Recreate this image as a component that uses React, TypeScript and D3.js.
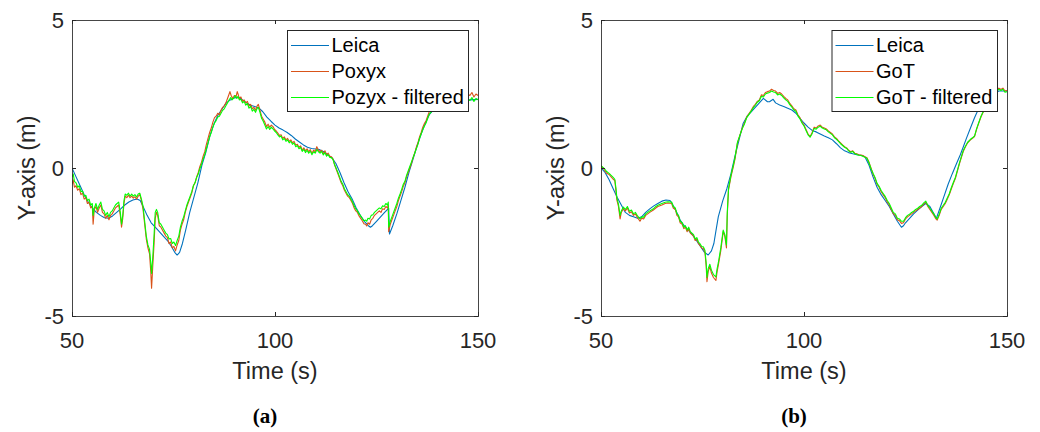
import React from "react";
import * as d3 from "d3";

type P = [number, number];

const xTicks = [50, 100, 150];
const yTicks = [-5, 0, 5];
const xDomain: [number, number] = [50, 150];
const yDomain: [number, number] = [-5, 5];

const legendA = ["Leica", "Poxyx", "Pozyx - filtered"];
const legendB = ["Leica", "GoT", "GoT - filtered"];

const leicaA: P[] = [[50,0],[51,-0.3],[52,-0.6],[53,-0.9],[54,-1.15],[55,-1.35],[56,-1.5],[57,-1.6],[58,-1.68],[59,-1.7],[60,-1.62],[61,-1.5],[62,-1.38],[63,-1.25],[64,-1.15],[65,-1.08],[66,-1.05],[66.8,-1.1],[67.5,-1.3],[68.5,-1.6],[69.5,-1.85],[70.5,-2.0],[71.5,-2.15],[72.5,-2.3],[73.5,-2.45],[74.5,-2.65],[75.3,-2.85],[75.9,-2.94],[76.5,-2.85],[77.2,-2.55],[78,-2.1],[79,-1.5],[80,-1.0],[81,-0.5],[82,0.1],[83,0.55],[84,1.1],[85,1.5],[86,1.8],[87,2.0],[88,2.2],[89,2.3],[90,2.37],[91,2.39],[92,2.3],[93,2.2],[94,2.12],[95,2.08],[96,2.03],[97,1.9],[98,1.72],[99,1.58],[100,1.45],[101,1.35],[102,1.28],[103,1.2],[104,1.1],[105,0.98],[106,0.88],[107,0.78],[108,0.7],[109,0.66],[110,0.64],[111,0.62],[112,0.55],[113,0.45],[114,0.35],[115,0.15],[116,-0.15],[117,-0.5],[118,-0.8],[119,-1.05],[120,-1.35],[121,-1.6],[122,-1.8],[123,-1.95],[123.5,-2.0],[124,-1.95],[125,-1.8],[126,-1.65],[127,-1.5],[128,-1.36],[128.2,-2.23],[129,-1.95],[130,-1.55],[131,-1.1],[132,-0.65],[133,-0.15],[134,0.3],[135,0.75],[136,1.15],[137,1.5],[138,1.8],[139,1.96],[140,2.05],[142,2.15],[145,2.25],[148,2.3],[150,2.32]];

const poxyxA: P[] = [[50,-0.55],[50.3,-0.4],[50.6,-0.65],[51,-0.6],[51.4,-0.75],[51.8,-0.7],[52.2,-0.9],[52.6,-0.85],[53,-1.05],[53.4,-1.0],[53.8,-1.2],[54.2,-1.15],[54.6,-1.35],[55,-1.3],[55.2,-1.9],[55.5,-1.4],[55.9,-1.3],[56.3,-1.5],[56.7,-1.35],[57.1,-1.25],[57.5,-1.5],[57.9,-1.55],[58.3,-1.7],[58.7,-1.6],[59.1,-1.75],[59.5,-1.6],[59.9,-1.55],[60.3,-1.45],[60.7,-1.35],[61.1,-1.3],[61.5,-1.25],[61.9,-1.6],[62.2,-2.0],[62.5,-1.7],[62.8,-1.2],[63.1,-0.95],[63.5,-1.0],[63.9,-0.92],[64.3,-1.0],[64.7,-0.95],[65.1,-1.02],[65.5,-0.97],[65.9,-1.05],[66.3,-0.95],[66.7,-0.9],[67.1,-1.1],[67.5,-1.4],[67.9,-1.9],[68.3,-2.4],[68.7,-2.7],[69.1,-2.9],[69.4,-3.5],[69.6,-4.06],[69.9,-3.3],[70.2,-2.6],[70.5,-1.7],[70.8,-1.5],[71.1,-1.6],[71.5,-1.95],[71.9,-2.0],[72.3,-2.1],[72.7,-2.2],[73.1,-2.3],[73.5,-2.35],[73.9,-2.55],[74.3,-2.5],[74.7,-2.7],[75.1,-2.65],[75.5,-2.8],[75.9,-2.6],[76.3,-2.45],[76.7,-2.1],[77.1,-1.9],[77.5,-1.75],[77.9,-1.5],[78.3,-1.3],[78.7,-1.15],[79.1,-1.0],[79.5,-0.85],[79.9,-0.6],[80.3,-0.5],[80.7,-0.3],[81.1,-0.15],[81.5,0.05],[81.9,0.2],[82.3,0.4],[82.7,0.55],[83.1,0.8],[83.5,1.0],[83.9,1.2],[84.3,1.35],[84.7,1.55],[85.1,1.7],[85.5,1.75],[85.9,1.85],[86.3,1.8],[86.7,1.95],[87.1,2.05],[87.5,2.1],[87.9,2.2],[88.3,2.35],[88.7,2.5],[88.9,2.58],[89.2,2.45],[89.6,2.35],[90,2.45],[90.4,2.4],[90.7,2.58],[90.9,2.5],[91.2,2.35],[91.6,2.4],[92,2.25],[92.4,2.3],[92.8,2.2],[93.2,2.25],[93.6,2.1],[94,2.15],[94.4,2.0],[94.8,2.05],[95.2,1.95],[95.6,2.1],[95.9,2.15],[96.3,1.95],[96.7,1.75],[97.1,1.65],[97.5,1.55],[97.9,1.4],[98.3,1.48],[98.7,1.38],[99.1,1.45],[99.5,1.4],[99.9,1.3],[100.3,1.25],[100.7,1.18],[101.1,1.1],[101.5,1.12],[101.9,1.0],[102.3,1.05],[102.7,0.95],[103.1,1.0],[103.5,0.9],[103.9,0.95],[104.3,0.85],[104.7,0.9],[105.1,0.78],[105.5,0.8],[105.9,0.7],[106.3,0.75],[106.7,0.6],[107.1,0.68],[107.5,0.58],[107.9,0.65],[108.3,0.55],[108.7,0.62],[109.1,0.5],[109.5,0.6],[109.9,0.55],[110.3,0.72],[110.7,0.6],[111.1,0.55],[111.5,0.6],[111.9,0.48],[112.3,0.58],[112.7,0.45],[113.1,0.5],[113.5,0.4],[113.9,0.38],[114.3,0.3],[114.7,0.1],[115.1,-0.05],[115.5,-0.2],[115.9,-0.35],[116.3,-0.5],[116.7,-0.6],[117.1,-0.75],[117.5,-0.85],[117.9,-0.95],[118.3,-1.0],[118.7,-1.1],[119.1,-1.2],[119.5,-1.35],[119.9,-1.45],[120.3,-1.5],[120.7,-1.62],[121.1,-1.7],[121.5,-1.78],[121.9,-1.88],[122.3,-1.9],[122.6,-1.96],[122.9,-1.85],[123.3,-1.9],[123.7,-1.75],[124.1,-1.7],[124.5,-1.6],[124.9,-1.55],[125.3,-1.5],[125.7,-1.45],[126.1,-1.5],[126.5,-1.38],[126.9,-1.4],[127.3,-1.3],[127.7,-1.35],[127.9,-1.25],[128,-2.15],[128.4,-1.9],[128.8,-1.75],[129.2,-1.6],[129.6,-1.45],[130,-1.3],[130.4,-1.1],[130.8,-0.95],[131.2,-0.8],[131.6,-0.62],[132,-0.5],[132.4,-0.3],[132.8,-0.15],[133.2,0.0],[133.6,0.15],[134,0.35],[134.4,0.5],[134.8,0.7],[135.2,0.85],[135.6,1.05],[136,1.2],[136.4,1.38],[136.8,1.5],[137.2,1.6],[137.6,1.75],[138,1.9],[138.4,1.95],[138.8,2.0],[139.5,2.05],[141,2.15],[143,2.25],[145,2.3],[147,2.4],[147.5,2.5],[148,2.45],[148.5,2.55],[149,2.4],[149.5,2.5],[150,2.45]];

const pozyxFilteredA: P[] = [[50,-0.3],[50.3,-0.2],[50.6,-0.45],[51,-0.5],[51.4,-0.65],[51.8,-0.6],[52.2,-0.8],[52.6,-0.78],[53,-0.95],[53.4,-0.92],[53.8,-1.1],[54.2,-1.05],[54.6,-1.25],[55,-1.2],[55.2,-1.6],[55.5,-1.35],[55.9,-1.2],[56.3,-1.4],[56.7,-1.25],[57.1,-1.15],[57.5,-1.4],[57.9,-1.45],[58.3,-1.6],[58.7,-1.5],[59.1,-1.65],[59.5,-1.5],[59.9,-1.45],[60.3,-1.35],[60.7,-1.25],[61.1,-1.2],[61.5,-1.15],[61.9,-1.5],[62.2,-1.9],[62.5,-1.6],[62.8,-1.1],[63.1,-0.88],[63.5,-0.92],[63.9,-0.85],[64.3,-0.95],[64.7,-0.88],[65.1,-0.95],[65.5,-0.9],[65.9,-0.98],[66.3,-0.88],[66.7,-0.85],[67.1,-1.05],[67.5,-1.3],[67.9,-1.8],[68.3,-2.3],[68.7,-2.6],[69.1,-2.75],[69.4,-3.2],[69.6,-3.56],[69.9,-3.0],[70.2,-2.3],[70.5,-1.5],[70.8,-1.4],[71.1,-1.5],[71.5,-1.85],[71.9,-1.9],[72.3,-2.0],[72.7,-2.1],[73.1,-2.2],[73.5,-2.25],[73.9,-2.4],[74.3,-2.38],[74.7,-2.55],[75.1,-2.5],[75.5,-2.62],[75.9,-2.45],[76.3,-2.3],[76.7,-2.0],[77.1,-1.8],[77.5,-1.65],[77.9,-1.45],[78.3,-1.25],[78.7,-1.1],[79.1,-0.95],[79.5,-0.8],[79.9,-0.6],[80.3,-0.5],[80.7,-0.32],[81.1,-0.2],[81.5,-0.02],[81.9,0.12],[82.3,0.3],[82.7,0.45],[83.1,0.65],[83.5,0.85],[83.9,1.05],[84.3,1.2],[84.7,1.38],[85.1,1.52],[85.5,1.6],[85.9,1.72],[86.3,1.75],[86.7,1.85],[87.1,1.95],[87.5,2.0],[87.9,2.1],[88.3,2.2],[88.7,2.3],[89.1,2.38],[89.4,2.3],[89.8,2.35],[90.2,2.45],[90.6,2.35],[90.9,2.42],[91.2,2.3],[91.6,2.32],[92,2.2],[92.4,2.25],[92.8,2.12],[93.2,2.18],[93.6,2.02],[94,2.08],[94.4,1.92],[94.8,1.98],[95.2,1.88],[95.6,2.02],[95.9,2.05],[96.3,1.88],[96.7,1.68],[97.1,1.58],[97.5,1.45],[97.9,1.32],[98.3,1.4],[98.7,1.3],[99.1,1.38],[99.5,1.32],[99.9,1.25],[100.3,1.2],[100.7,1.12],[101.1,1.05],[101.5,1.08],[101.9,0.95],[102.3,1.0],[102.7,0.9],[103.1,0.95],[103.5,0.85],[103.9,0.9],[104.3,0.8],[104.7,0.85],[105.1,0.72],[105.5,0.76],[105.9,0.65],[106.3,0.7],[106.7,0.56],[107.1,0.63],[107.5,0.52],[107.9,0.6],[108.3,0.5],[108.7,0.57],[109.1,0.45],[109.5,0.55],[109.9,0.5],[110.3,0.62],[110.7,0.55],[111.1,0.5],[111.5,0.56],[111.9,0.44],[112.3,0.52],[112.7,0.4],[113.1,0.45],[113.5,0.36],[113.9,0.35],[114.3,0.28],[114.7,0.1],[115.1,-0.02],[115.5,-0.15],[115.9,-0.3],[116.3,-0.45],[116.7,-0.55],[117.1,-0.7],[117.5,-0.8],[117.9,-0.9],[118.3,-0.95],[118.7,-1.05],[119.1,-1.15],[119.5,-1.28],[119.9,-1.38],[120.3,-1.45],[120.7,-1.55],[121.1,-1.62],[121.5,-1.7],[121.9,-1.78],[122.3,-1.76],[122.6,-1.8],[122.9,-1.7],[123.3,-1.72],[123.7,-1.6],[124.1,-1.58],[124.5,-1.5],[124.9,-1.45],[125.3,-1.4],[125.7,-1.35],[126.1,-1.38],[126.5,-1.28],[126.9,-1.3],[127.3,-1.2],[127.7,-1.25],[127.9,-1.15],[128,-2.0],[128.4,-1.8],[128.8,-1.65],[129.2,-1.5],[129.6,-1.35],[130,-1.2],[130.4,-1.02],[130.8,-0.88],[131.2,-0.72],[131.6,-0.55],[132,-0.45],[132.4,-0.25],[132.8,-0.1],[133.2,0.05],[133.6,0.2],[134,0.35],[134.4,0.5],[134.8,0.65],[135.2,0.8],[135.6,1.0],[136,1.15],[136.4,1.3],[136.8,1.42],[137.2,1.52],[137.6,1.68],[138,1.82],[138.4,1.88],[138.8,1.92],[139.5,2.0],[141,2.1],[143,2.2],[145,2.25],[147,2.3],[147.5,2.35],[148,2.28],[148.5,2.38],[149,2.25],[149.5,2.35],[150,2.3]];

const leicaB: P[] = [[50,0],[51,-0.15],[52,-0.4],[53,-0.7],[54,-1.0],[55,-1.25],[56,-1.5],[57,-1.6],[58,-1.65],[59,-1.7],[60,-1.65],[61,-1.5],[62,-1.38],[63,-1.28],[64,-1.2],[65,-1.12],[66,-1.08],[67,-1.1],[67.5,-1.2],[68.5,-1.45],[69.5,-1.76],[70.5,-1.95],[71.5,-2.1],[72.5,-2.25],[73.5,-2.45],[74.5,-2.65],[75.5,-2.85],[76.4,-2.94],[77.2,-2.8],[77.8,-2.55],[78.4,-2.05],[78.9,-1.64],[80,-1.1],[81,-0.7],[82,-0.2],[83,0.4],[84,0.95],[85,1.5],[86,1.75],[87,1.9],[88,2.05],[89,2.2],[90,2.35],[91,2.24],[91.5,2.24],[92.4,2.32],[93,2.2],[94,2.13],[95,2.08],[96,2.02],[97,1.96],[98,1.85],[99,1.68],[100,1.52],[101,1.38],[102,1.27],[103,1.22],[104,1.15],[105,1.08],[106,1.02],[107,0.95],[108,0.82],[109,0.68],[110,0.58],[111,0.52],[112,0.48],[113,0.45],[114,0.43],[115,0.38],[116,0.1],[117,-0.3],[118,-0.65],[119,-0.9],[120,-1.1],[121,-1.3],[122,-1.55],[123,-1.8],[124,-2.0],[124.5,-1.95],[125,-1.85],[126,-1.7],[127,-1.55],[128,-1.42],[129,-1.3],[130,-1.2],[131,-1.3],[132,-1.55],[132.6,-1.7],[133.5,-1.35],[134.5,-0.95],[135.5,-0.55],[136.5,-0.2],[137.6,0.16],[138.5,0.45],[139.2,0.7],[140,1.0],[141,1.35],[142,1.7],[143,2.0],[144,2.2],[146,2.45],[148,2.6],[150,2.6]];

const gotB: P[] = [[50,0.05],[50.5,0.0],[51,-0.1],[51.4,-0.18],[52,-0.22],[52.5,-0.3],[53,-0.38],[53.4,-0.42],[53.7,-0.8],[53.9,-1.08],[54.3,-1.3],[54.7,-1.72],[55,-1.5],[55.5,-1.38],[56,-1.45],[56.5,-1.35],[57,-1.52],[57.5,-1.48],[58,-1.6],[58.5,-1.55],[59,-1.68],[59.6,-1.8],[60,-1.7],[60.5,-1.72],[61,-1.6],[62,-1.5],[62.9,-1.42],[63.5,-1.35],[64,-1.3],[65,-1.25],[65.8,-1.2],[66.5,-1.18],[67.4,-1.2],[67.8,-1.35],[68.3,-1.4],[68.7,-1.6],[69.1,-1.65],[69.5,-1.85],[70,-1.9],[70.4,-2.05],[70.8,-2.0],[71.2,-2.15],[71.6,-2.05],[72,-2.2],[72.4,-2.25],[72.8,-2.3],[73.2,-2.45],[73.6,-2.4],[74,-2.55],[74.4,-2.62],[74.8,-2.7],[75.2,-2.72],[75.6,-2.85],[75.9,-3.3],[76.1,-3.84],[76.4,-3.5],[76.8,-3.33],[77.2,-3.55],[77.7,-3.7],[78.3,-3.8],[78.6,-3.5],[78.9,-3.28],[79.5,-2.8],[80.1,-2.15],[80.5,-2.3],[80.9,-2.7],[81.1,-1.6],[81.4,-0.75],[82,-0.3],[82.6,0.05],[83,0.3],[83.6,0.84],[84.2,1.1],[84.8,1.35],[85.3,1.5],[85.9,1.73],[86.5,1.85],[87,1.95],[87.5,2.07],[88,2.15],[88.5,2.25],[89,2.3],[89.5,2.47],[90,2.45],[90.5,2.55],[91,2.58],[91.5,2.6],[92,2.66],[92.5,2.62],[93,2.6],[93.5,2.52],[94,2.55],[94.5,2.5],[95,2.42],[95.5,2.35],[96,2.3],[96.5,2.18],[97,2.1],[97.5,2.0],[98,1.96],[98.5,1.8],[99,1.7],[99.5,1.55],[100,1.45],[100.5,1.3],[101,1.15],[101.5,1.06],[102,1.2],[102.5,1.38],[103,1.35],[103.5,1.42],[104,1.45],[104.5,1.38],[105,1.35],[105.5,1.32],[106,1.25],[106.5,1.2],[107,1.15],[107.5,1.05],[108,1.0],[108.5,0.92],[109,0.85],[109.5,0.78],[110,0.72],[110.5,0.68],[111,0.6],[111.5,0.55],[112,0.58],[112.5,0.5],[113,0.48],[113.5,0.45],[114,0.44],[114.5,0.42],[115,0.38],[115.5,0.35],[116,0.2],[116.5,0.0],[117,-0.2],[117.5,-0.35],[118,-0.55],[118.5,-0.65],[119,-0.8],[119.5,-0.9],[120,-1.0],[120.5,-1.15],[121,-1.25],[121.5,-1.4],[122,-1.55],[122.5,-1.6],[123,-1.75],[123.5,-1.78],[124,-1.87],[124.5,-1.85],[125,-1.72],[125.5,-1.65],[126,-1.6],[126.5,-1.55],[127,-1.5],[127.5,-1.45],[128,-1.4],[128.5,-1.35],[129,-1.3],[129.5,-1.22],[130,-1.15],[130.5,-1.3],[131,-1.4],[131.5,-1.5],[132,-1.6],[132.5,-1.72],[132.8,-1.76],[133.3,-1.6],[133.8,-1.4],[134.3,-1.3],[134.8,-1.2],[135.2,-1.08],[135.8,-0.9],[136.3,-0.7],[136.8,-0.52],[137.3,-0.35],[137.8,-0.1],[138.3,0.15],[138.7,0.33],[139.2,0.55],[139.7,0.7],[140.3,0.85],[141,0.95],[141.5,1.0],[142,1.06],[142.5,1.3],[143,1.5],[143.6,1.73],[144,1.85],[145,2.1],[146,2.35],[147,2.55],[148,2.7],[148.5,2.65],[149,2.7],[149.5,2.6],[150,2.62]];

const gotFilteredB: P[] = [[50,0.08],[50.5,0.02],[51,-0.05],[51.4,-0.12],[52,-0.18],[52.5,-0.25],[53,-0.32],[53.4,-0.38],[53.7,-0.7],[53.9,-1.0],[54.3,-1.22],[54.7,-1.6],[55,-1.45],[55.5,-1.32],[56,-1.4],[56.5,-1.3],[57,-1.46],[57.5,-1.42],[58,-1.55],[58.5,-1.5],[59,-1.62],[59.6,-1.72],[60,-1.65],[60.5,-1.66],[61,-1.55],[62,-1.45],[62.9,-1.38],[63.5,-1.3],[64,-1.26],[65,-1.2],[65.8,-1.16],[66.5,-1.14],[67.4,-1.15],[67.8,-1.3],[68.3,-1.35],[68.7,-1.55],[69.1,-1.6],[69.5,-1.8],[70,-1.85],[70.4,-2.0],[70.8,-1.95],[71.2,-2.1],[71.6,-2.0],[72,-2.15],[72.4,-2.2],[72.8,-2.25],[73.2,-2.4],[73.6,-2.35],[74,-2.5],[74.4,-2.56],[74.8,-2.65],[75.2,-2.66],[75.6,-2.78],[75.9,-3.2],[76.1,-3.7],[76.4,-3.4],[76.8,-3.25],[77.2,-3.45],[77.7,-3.6],[78.3,-3.68],[78.6,-3.4],[78.9,-3.2],[79.5,-2.7],[80.1,-2.1],[80.5,-2.25],[80.9,-2.6],[81.1,-1.5],[81.4,-0.7],[82,-0.25],[82.6,0.1],[83,0.35],[83.6,0.86],[84.2,1.1],[84.8,1.33],[85.3,1.48],[85.9,1.7],[86.5,1.82],[87,1.92],[87.5,2.03],[88,2.12],[88.5,2.22],[89,2.27],[89.5,2.42],[90,2.4],[90.5,2.5],[91,2.53],[91.5,2.55],[92,2.6],[92.5,2.57],[93,2.55],[93.5,2.47],[94,2.5],[94.5,2.45],[95,2.37],[95.5,2.3],[96,2.25],[96.5,2.14],[97,2.06],[97.5,1.96],[98,1.92],[98.5,1.76],[99,1.66],[99.5,1.52],[100,1.42],[100.5,1.27],[101,1.12],[101.5,1.04],[102,1.16],[102.5,1.34],[103,1.31],[103.5,1.38],[104,1.41],[104.5,1.35],[105,1.32],[105.5,1.29],[106,1.22],[106.5,1.17],[107,1.12],[107.5,1.02],[108,0.97],[108.5,0.9],[109,0.82],[109.5,0.76],[110,0.7],[110.5,0.66],[111,0.58],[111.5,0.53],[112,0.56],[112.5,0.48],[113,0.46],[113.5,0.43],[114,0.42],[114.5,0.4],[115,0.36],[115.5,0.33],[116,0.18],[116.5,-0.02],[117,-0.18],[117.5,-0.32],[118,-0.52],[118.5,-0.62],[119,-0.76],[119.5,-0.86],[120,-0.96],[120.5,-1.1],[121,-1.2],[121.5,-1.35],[122,-1.5],[122.5,-1.55],[123,-1.7],[123.5,-1.72],[124,-1.8],[124.5,-1.8],[125,-1.68],[125.5,-1.6],[126,-1.56],[126.5,-1.5],[127,-1.46],[127.5,-1.4],[128,-1.36],[128.5,-1.3],[129,-1.26],[129.5,-1.18],[130,-1.12],[130.5,-1.26],[131,-1.36],[131.5,-1.46],[132,-1.56],[132.5,-1.68],[132.8,-1.72],[133.3,-1.56],[133.8,-1.36],[134.3,-1.26],[134.8,-1.16],[135.2,-1.04],[135.8,-0.86],[136.3,-0.66],[136.8,-0.48],[137.3,-0.31],[137.8,-0.06],[138.3,0.18],[138.7,0.36],[139.2,0.58],[139.7,0.72],[140.3,0.87],[141,0.97],[141.5,1.02],[142,1.08],[142.5,1.32],[143,1.52],[143.6,1.75],[144,1.87],[145,2.12],[146,2.37],[147,2.55],[148,2.66],[148.5,2.62],[149,2.66],[149.5,2.56],[150,2.58]];

const COLORS = ["#0072BD", "#D95319", "#00FF00"];
const SANS = "'Liberation Sans', Arial, Helvetica, sans-serif";
const AXC = "#262626";

type PanelProps = {
  left: number;
  series: P[][];
  labels: string[];
  legendWidth: number;
  tag: string;
  id: string;
};

function Panel({ left, series, labels, legendWidth, tag, id }: PanelProps) {
  const top = 20;
  const bottom = 316;
  const right = left + 406;
  const x = d3.scaleLinear().domain(xDomain).range([left, right]);
  const y = d3.scaleLinear().domain(yDomain).range([bottom, top]);
  const line = d3
    .line<P>()
    .x((d) => x(d[0]))
    .y((d) => y(d[1]));
  const lgRight = right - 10;
  const lgLeft = lgRight - legendWidth;
  const lgTop = 30;
  const rows = [45, 71, 97];
  const cx = (left + right) / 2;
  return (
    <g>
      <defs>
        <clipPath id={id}>
          <rect x={left} y={top} width={right - left} height={bottom - top} />
        </clipPath>
      </defs>
      <rect x={left} y={top} width={right - left} height={bottom - top} fill="#fff" />
      <g clipPath={`url(#${id})`}>
        {series.map((s, i) => (
          <path
            key={i}
            d={line(s) || ""}
            fill="none"
            stroke={COLORS[i]}
            strokeWidth={1.1}
            strokeLinejoin="round"
          />
        ))}
      </g>
      <rect
        x={left + 0.5}
        y={top + 0.5}
        width={right - left}
        height={bottom - top}
        fill="none"
        stroke={AXC}
        strokeWidth={1}
        opacity={0.85}
      />
      {xTicks.map((t) => (
        <g key={"x" + t}>
          <line x1={x(t) + 0.5} x2={x(t) + 0.5} y1={bottom} y2={bottom - 4} stroke={AXC} />
          <line x1={x(t) + 0.5} x2={x(t) + 0.5} y1={top} y2={top + 4} stroke={AXC} />
          <text
            x={x(t)}
            y={348}
            textAnchor="middle"
            fontFamily={SANS}
            fontSize={22}
            fill={AXC}
          >
            {t}
          </text>
        </g>
      ))}
      {yTicks.map((t) => (
        <g key={"y" + t}>
          <line x1={left} x2={left + 4} y1={y(t) + 0.5} y2={y(t) + 0.5} stroke={AXC} />
          <line x1={right} x2={right - 4} y1={y(t) + 0.5} y2={y(t) + 0.5} stroke={AXC} />
          <text
            x={left - 8}
            y={y(t) + 8}
            textAnchor="end"
            fontFamily={SANS}
            fontSize={22}
            fill={AXC}
          >
            {t}
          </text>
        </g>
      ))}
      <text
        x={cx}
        y={379}
        textAnchor="middle"
        fontFamily={SANS}
        fontSize={23.5}
        fill={AXC}
      >
        Time (s)
      </text>
      <text
        transform={`translate(${left - 37},${(top + bottom) / 2}) rotate(-90)`}
        textAnchor="middle"
        fontFamily={SANS}
        fontSize={23.5}
        fill={AXC}
      >
        Y-axis (m)
      </text>
      <text
        x={cx - 10}
        y={423}
        textAnchor="middle"
        fontFamily="'Liberation Serif', 'Times New Roman', serif"
        fontWeight="bold"
        fontSize={21}
        fill="#000"
      >
        {tag}
      </text>
      <rect
        x={lgLeft + 0.5}
        y={lgTop + 0.5}
        width={legendWidth}
        height={81}
        fill="#fff"
        stroke={AXC}
        strokeWidth={1}
      />
      {labels.map((lab, i) => (
        <g key={lab}>
          <line
            x1={lgLeft + 4}
            x2={lgLeft + 42}
            y1={rows[i] + 0.5}
            y2={rows[i] + 0.5}
            stroke={COLORS[i]}
            strokeWidth={1.1}
          />
          <text
            x={lgLeft + 44.5}
            y={rows[i] + 7}
            fontFamily={SANS}
            fontSize={20}
            fill="#000"
          >
            {lab}
          </text>
        </g>
      ))}
    </g>
  );
}

export default function App() {
  return (
    <svg
      width={1040}
      height={432}
      style={{ position: "absolute", left: 0, top: 0, background: "#fff" }}
    >
      <rect x={0} y={0} width={1040} height={432} fill="#fff" />
      <Panel
        left={72}
        series={[leicaA, poxyxA, pozyxFilteredA]}
        labels={legendA}
        legendWidth={181}
        tag="(a)"
        id="clipA"
      />
      <Panel
        left={601}
        series={[leicaB, gotB, gotFilteredB]}
        labels={legendB}
        legendWidth={165.5}
        tag="(b)"
        id="clipB"
      />
    </svg>
  );
}
